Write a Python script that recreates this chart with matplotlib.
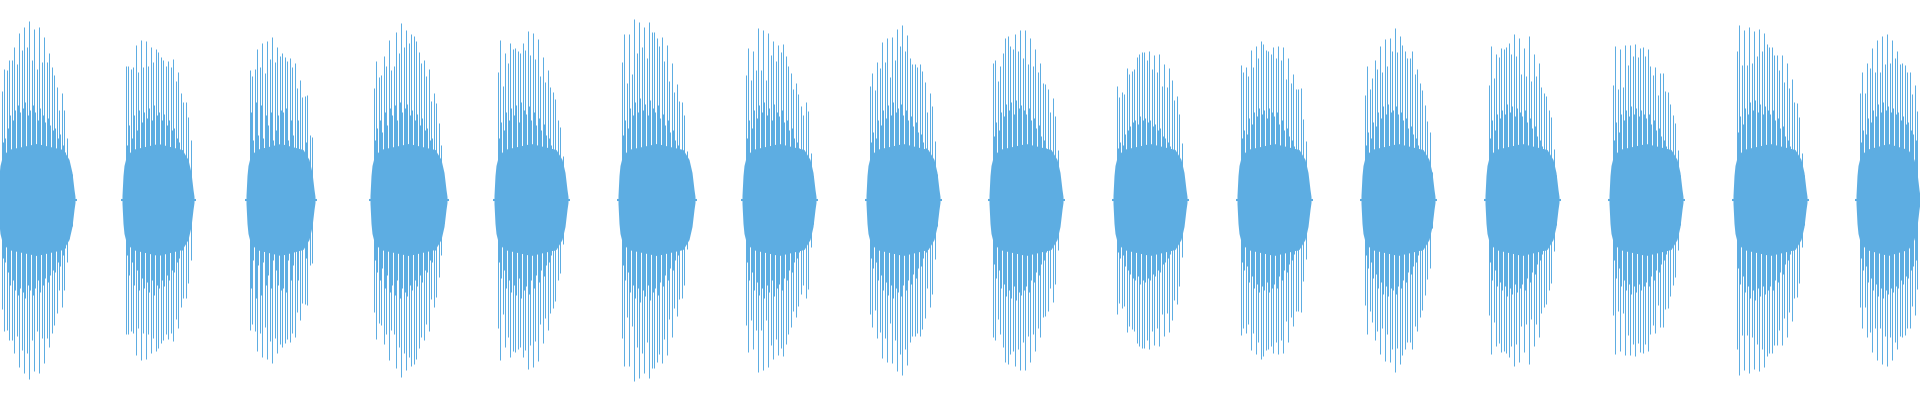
import numpy as np
import matplotlib
matplotlib.use("Agg")
import matplotlib.pyplot as plt

# Waveform bursts: x where each burst starts (pixel units, 0..1920)
burst_starts = [-2, 122, 246, 370, 494, 618, 742, 866, 989, 1113, 1237, 1361, 1485, 1609, 1733, 1856]

# tall spike amplitudes per burst (half-height, drawn symmetric about 0)
peaks_01 = [109, 131, 130, 140, 140, 153, 136, 167, 150, 173, 153, 179, 140, 171, 131, 173, 138, 163, 138, 147, 133, 125, 113, 90, 107, 90, 62, 38, 26]
peaks_02 = [134, 134, 131, 133, 155, 128, 160, 133, 159, 134, 153, 138, 151, 148, 143, 140, 134, 139, 133, 141, 119, 128, 107, 98, 98, 83, 60]
peaks_03 = [130, 124, 131, 151, 133, 157, 127, 159, 141, 163, 138, 153, 144, 147, 143, 139, 142, 133, 137, 112, 120, 103, 104, 105, 65, 63]
peaks_04 = [112, 139, 123, 125, 144, 134, 160, 130, 134, 168, 147, 177, 153, 170, 157, 166, 164, 159, 148, 137, 140, 124, 131, 99, 107, 97, 77, 55, 23]
peaks_05 = [128, 160, 114, 147, 137, 157, 151, 152, 149, 147, 157, 150, 169, 145, 167, 141, 161, 124, 143, 118, 130, 113, 108, 101, 80, 73, 44, 20]
peaks_06 = [138, 166, 117, 166, 126, 181, 147, 178, 153, 173, 142, 178, 168, 168, 162, 154, 163, 139, 155, 119, 137, 108, 116, 99, 98, 85, 49, 27, 13]
peaks_07 = [125, 152, 120, 149, 130, 172, 130, 170, 120, 167, 145, 159, 139, 155, 148, 156, 144, 134, 127, 111, 117, 106, 94, 85, 98, 89, 47, 24]
peaks_08 = [114, 127, 110, 138, 132, 158, 138, 162, 123, 163, 140, 171, 154, 175, 149, 165, 142, 136, 136, 133, 136, 129, 118, 88, 107, 94, 59, 26]
peaks_09 = [137, 140, 119, 134, 147, 162, 164, 154, 151, 166, 149, 170, 142, 170, 136, 162, 134, 151, 128, 137, 117, 116, 111, 88, 102, 84, 50, 18]
peaks_10 = [114, 103, 108, 106, 132, 126, 129, 131, 143, 146, 148, 148, 140, 149, 131, 145, 128, 146, 114, 136, 113, 132, 120, 100, 104, 86, 57, 22]
peaks_11 = [135, 128, 133, 124, 150, 133, 154, 142, 159, 156, 150, 149, 146, 153, 142, 154, 140, 153, 121, 142, 117, 126, 111, 111, 112, 81, 59, 20]
peaks_12 = [105, 134, 111, 122, 140, 131, 154, 128, 161, 134, 162, 149, 172, 148, 164, 155, 149, 142, 142, 149, 126, 131, 117, 110, 95, 79, 68, 28]
peaks_13 = [115, 154, 122, 146, 143, 152, 151, 153, 157, 146, 166, 144, 162, 126, 152, 124, 164, 119, 146, 124, 137, 113, 107, 104, 90, 83, 51, 25]
peaks_14 = [115, 154, 111, 151, 113, 155, 135, 155, 144, 156, 143, 152, 153, 144, 151, 134, 125, 133, 105, 127, 127, 109, 108, 96, 85, 77, 50, 25]
peaks_15 = [149, 175, 135, 170, 135, 173, 137, 169, 144, 171, 149, 167, 156, 153, 153, 145, 145, 130, 145, 118, 137, 112, 121, 98, 97, 83, 47, 25]
peaks_16 = [107, 128, 107, 137, 132, 152, 128, 160, 128, 164, 136, 166, 137, 160, 142, 149, 136, 137, 135, 128, 128, 106, 115, 89]

# medium bars sitting between consecutive spikes
mids_01 = [58, 62, 72, 85, 80, 90, 95, 88, 92, 98, 85, 90, 95, 88, 80, 92, 85, 78, 82, 75, 70, 72, 62, 66, 55, 48, 38, 20]
mids_02 = [55, 75, 62, 85, 70, 90, 78, 88, 82, 92, 80, 95, 85, 88, 80, 86, 75, 80, 70, 72, 62, 58, 50, 45, 35, 18]
mids_03 = [88, 60, 98, 65, 95, 62, 85, 75, 88, 60, 70, 85, 90, 88, 92, 60, 80, 65, 48, 80, 48, 45, 58, 40, 22]
mids_04 = [60, 72, 80, 68, 88, 75, 92, 85, 95, 80, 98, 88, 92, 96, 85, 90, 80, 86, 75, 82, 70, 72, 60, 62, 50, 42, 30, 15]
mids_05 = [62, 78, 70, 88, 80, 92, 85, 95, 78, 98, 90, 86, 94, 80, 88, 75, 82, 70, 76, 65, 62, 55, 50, 42, 35, 25, 12]
mids_06 = [65, 80, 72, 92, 85, 98, 88, 102, 90, 96, 85, 100, 92, 88, 95, 82, 86, 75, 80, 68, 70, 60, 55, 48, 40, 30, 20, 10]
mids_07 = [62, 80, 72, 90, 82, 95, 88, 98, 85, 92, 80, 96, 88, 84, 90, 78, 80, 70, 72, 62, 58, 52, 48, 40, 32, 22, 12]
mids_08 = [58, 68, 62, 80, 75, 90, 82, 95, 85, 98, 88, 92, 96, 85, 90, 80, 84, 74, 78, 68, 66, 58, 52, 45, 36, 25, 12]
mids_09 = [64, 78, 70, 88, 84, 96, 90, 98, 86, 100, 92, 95, 90, 86, 92, 80, 82, 72, 75, 64, 60, 52, 50, 42, 34, 24, 12]
mids_10 = [52, 58, 55, 66, 70, 74, 78, 80, 76, 84, 80, 82, 78, 80, 74, 76, 70, 72, 64, 62, 58, 54, 48, 42, 34, 24, 12]
mids_11 = [62, 70, 66, 82, 76, 88, 84, 92, 86, 90, 82, 92, 88, 84, 88, 76, 80, 70, 72, 64, 60, 54, 50, 42, 34, 24, 12]
mids_12 = [55, 68, 62, 78, 74, 88, 82, 94, 86, 96, 88, 90, 94, 86, 88, 80, 82, 72, 74, 66, 62, 55, 50, 44, 36, 26, 12]
mids_13 = [62, 80, 70, 86, 82, 90, 86, 96, 88, 94, 84, 92, 88, 84, 90, 78, 82, 72, 74, 64, 60, 54, 50, 42, 34, 24, 12]
mids_14 = [60, 78, 68, 86, 80, 90, 84, 94, 86, 92, 84, 90, 86, 82, 86, 76, 80, 70, 72, 64, 60, 54, 48, 42, 34, 24, 12]
mids_15 = [68, 84, 76, 92, 86, 98, 90, 100, 88, 96, 86, 94, 90, 86, 90, 80, 82, 72, 74, 64, 60, 54, 50, 42, 34, 24, 12]
mids_16 = [58, 70, 66, 82, 78, 90, 84, 96, 88, 98, 90, 94, 88, 92, 86, 88, 80, 84, 76, 78, 70, 66, 60]

# dense core envelope: (offset from burst start, amplitude), a centre value,
# then (offset from burst end, amplitude)
core_head = [(0, 4), (1, 24), (2, 34), (4, 42), (10, 50)]
core_centre = 56
core_tail = [(-12, 50), (-6, 40), (-3, 27), (-1, 10), (0, 3)]

peaks = [peaks_01, peaks_02, peaks_03, peaks_04, peaks_05, peaks_06, peaks_07, peaks_08,
         peaks_09, peaks_10, peaks_11, peaks_12, peaks_13, peaks_14, peaks_15, peaks_16]
mids = [mids_01, mids_02, mids_03, mids_04, mids_05, mids_06, mids_07, mids_08,
        mids_09, mids_10, mids_11, mids_12, mids_13, mids_14, mids_15, mids_16]

color = "#5DADE2"
lw = 0.72  # one pixel at 100 dpi

fig = plt.figure(figsize=(19.2, 4), dpi=100)
ax = fig.add_axes([0, 0, 1, 1])

for start, pk, md in zip(burst_starts, peaks, mids):
    pk = np.array(pk, dtype=float)
    md = np.array(md, dtype=float)
    xs = np.floor(start + 3 + 2.5 * np.arange(len(pk))) + 0.5
    end = xs[-1] + 3.5

    # core (filled envelope)
    cx = ([start + o for o, _ in core_head] + [(start + end) / 2]
          + [end + o for o, _ in core_tail])
    cy = [a for _, a in core_head] + [core_centre] + [a for _, a in core_tail]
    cy = np.array(cy, dtype=float)
    ax.fill_between(cx, -cy, cy, color=color, linewidth=0)
    ax.hlines(0, start - 1.5, end + 1.5, color=color, linewidth=1.5)

    # medium bars and spikes
    ax.vlines(xs[:-1] + 1, -md, md, color=color, linewidth=lw)
    ax.vlines(xs, -pk, pk, color=color, linewidth=lw)

ax.set_xlim(0, 1920)
ax.set_ylim(-200.5, 199.5)
ax.axis("off")

fig.savefig("out.png", dpi=100, facecolor="white")
